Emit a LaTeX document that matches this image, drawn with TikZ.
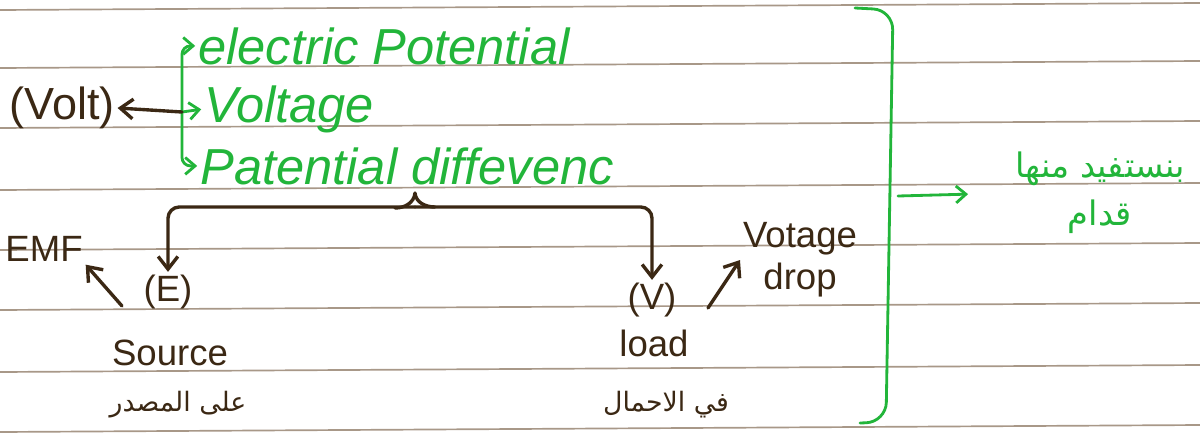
\documentclass[tikz,border=0pt]{standalone}
\usepackage{fontspec}
\setmainfont{Liberation Sans}
\newfontfamily\arabicfont[Script=Arabic]{DejaVu Sans}
\TeXXeTstate=1
\usetikzlibrary{arrows.meta}
\definecolor{ink}{HTML}{3B2814}
\definecolor{marker}{HTML}{22B53A}
\definecolor{ruling}{HTML}{A89888}
\tikzset{
  inkword/.style={text=ink, inner sep=2pt, font=\fontsize{26}{30}\selectfont},
  arabicword/.style={inkword, font=\arabicfont\fontsize{19}{24}\selectfont},
  markerword/.style={text=marker, inner sep=0pt, anchor=base west, font=\fontsize{36}{40}\selectfont\itshape},
  inkline/.style={draw=ink, line width=2.4pt, line cap=round, line join=round},
  markerline/.style={draw=marker, line width=2pt, line cap=round, line join=round},
  inkarrow/.style={inkline, -{Straight Barb[length=9pt,width=14pt]}},
  markerarrow/.style={markerline, -{Straight Barb[length=7pt,width=12pt]}},
}
\begin{document}
\begin{tikzpicture}[x=0.025cm,y=-0.025cm]
    % paper
    \useasboundingbox (0,0) rectangle (1200,434);
    \fill[white] (0,0) rectangle (1200,434);
    \foreach \y in {10,68,128,190,250,310,372,432}
        \draw[ruling, line width=1.2pt] (0,\y) -- (1200,\y-7);
    % volt and its three names
    \node[inkword, font=\fontsize{32}{36}\selectfont] (volt) at (62,108) {(Volt)};
    \node[markerword] (elec) at (198,64) {electric Potential};
    \node[markerword] (voltage) at (204,122) {Voltage};
    \node[markerword] (pdiff) at (200,184) {Patential diffevenc};
    \coordinate (fork) at (182,112);
    \draw[markerarrow, rounded corners=6, shorten >=2pt] (fork) |- (elec.west);
    \draw[markerarrow, shorten >=2pt] (fork) -- (voltage.west);
    \draw[markerarrow, rounded corners=6, shorten >=2pt] (fork) |- (pdiff.west);
    \draw[inkarrow] (fork) -- (volt.east);
    % brace down to E and V
    \coordinate (brace) at (415,207);
    \node[inkword] (e) at (168,292) {(E)};
    \node[inkword] (v) at (652,300) {(V)};
    \draw[inkarrow, rounded corners=8] (brace) -| (e.north);
    \draw[inkarrow, rounded corners=8] (brace) -| (v.north);
    \draw[inkline] (395,208) to[out=0,in=-95] (415,193) to[out=-85,in=180] (435,207);
    % source side
    \node[inkword] (emf) at (44,249) {EMF};
    \coordinate (emftail) at (122,306);
    \draw[inkarrow] (emftail) -- (emf.south east);
    \node[inkword] (source) at (170,353) {Source};
    \node[arabicword] (atsource) at (178,405) {\beginR على المصدر\endR};
    % load side
    \node[inkword] (load) at (654,343) {load};
    \node[arabicword] (atload) at (666,405) {\beginR في الاحمال\endR};
    \node[inkword, align=center] (drop) at (800,260) {Votage\\drop};
    \coordinate (droptail) at (708,308);
    \draw[inkarrow] (droptail) -- (drop.west);
    % green bracket on the right
    \draw[markerline, rounded corners=14] (855,8) -- (893,10) -- (886,422) -- (860,423);
    \coordinate (gather) at (898,196);
    \node[text=marker, font=\arabicfont\fontsize{24}{34}\selectfont, align=center] (gain) at (1100,193) {\beginR بنستفيد منها\endR\\\beginR قدام\endR};
    \draw[markerarrow, shorten >=30pt] (gather) -- (gain.west);
\end{tikzpicture}
\end{document}
